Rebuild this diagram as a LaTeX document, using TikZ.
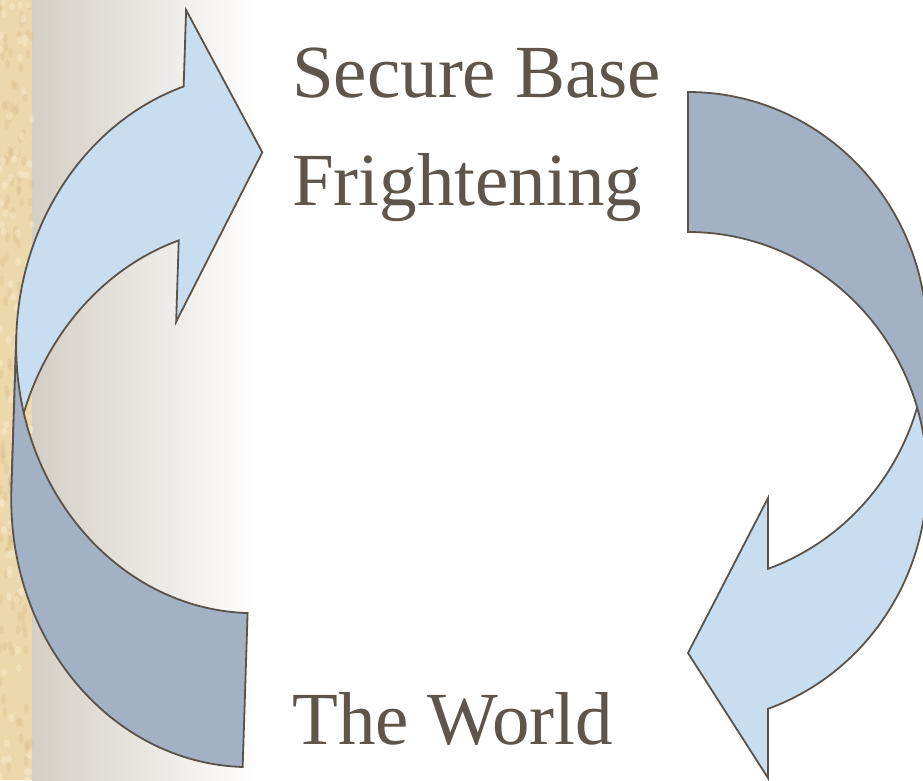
\documentclass[tikz,border=0pt]{standalone}
\usepackage{fontspec}
\setmainfont{Liberation Serif}

\definecolor{frontblue}{HTML}{C8DDF0}
\definecolor{backblue}{HTML}{A2B2C4}
\definecolor{edgeline}{HTML}{5B5249}
\definecolor{inktext}{HTML}{5E554C}
\definecolor{parch}{HTML}{EDD8AC}
\definecolor{parchdark}{HTML}{D6B983}
\definecolor{parchlight}{HTML}{F8EACB}
\definecolor{stripgrey}{HTML}{D4CFC5}

\tikzset{
  front/.style={fill=frontblue, draw=edgeline, line width=1.8pt, line join=miter},
  back/.style={fill=backblue, draw=edgeline, line width=1.8pt, line join=miter},
  caption/.style={font=\fontsize{75}{90}\selectfont, text=inktext,
    inner sep=0pt, anchor=base west},
  lring/.style={x radius=240, y radius=270},
  rring/.style={x radius=239, y radius=245.5}
}

\begin{document}
\begin{tikzpicture}[x=1pt, y=-1pt]
  \useasboundingbox (0,0) rectangle (923,780);
  \fill[white] (0,0) rectangle (923,780);
  \shade[left color=stripgrey, right color=white] (32,0) rectangle (260,780);
  \fill[parch] (0,0) rectangle (32,780);
  % parchment grain
  \pgfmathsetseed{11}
  \foreach \k in {1,...,140}{
    \pgfmathsetmacro\px{rnd*32}
    \pgfmathsetmacro\py{rnd*780}
    \fill[parchdark, opacity=.3] (\px,\py) ellipse[x radius=2.5, y radius=5];
  }
  \foreach \k in {1,...,90}{
    \pgfmathsetmacro\px{rnd*32}
    \pgfmathsetmacro\py{rnd*780}
    \fill[parchlight, opacity=.5] (\px,\py) ellipse[x radius=3, y radius=4];
  }

  % left arrow, tip up and to the right
  \begin{scope}[shift={(262.3,152.3)}, rotate=-1.83]
    \draw[front] (-80.7,90.7) arc[start angle=-109.65, end angle=-180, lring]
      -- (-240,191) arc[start angle=180, end angle=250.35, lring]
      -- (-80.7,-139.8) -- (0,0) -- (-80.7,172.1) -- cycle;
    \draw[back] (-240,191) arc[start angle=180, end angle=90, lring]
      -- (0,615) arc[start angle=90, end angle=180, lring] -- cycle;
  \end{scope}

  % right arrow, tip down and to the left
  \draw[front] (768,568.8) arc[start angle=70.45, end angle=0, rring]
    -- (927,477.5) arc[start angle=0, end angle=70.45, rring]
    -- (768,778) -- (688,653) -- (768,498) -- cycle;
  \draw[back] (688,92) arc[start angle=-90, end angle=0, rring]
    -- (927,477.5) arc[start angle=0, end angle=-90, rring] -- cycle;

  \node[caption] (secure) at (292,97)  {Secure Base};
  \node[caption] (fright) at (292,205) {Frightening};
  \node[caption] (world)  at (292,744) {The World};
\end{tikzpicture}
\end{document}
